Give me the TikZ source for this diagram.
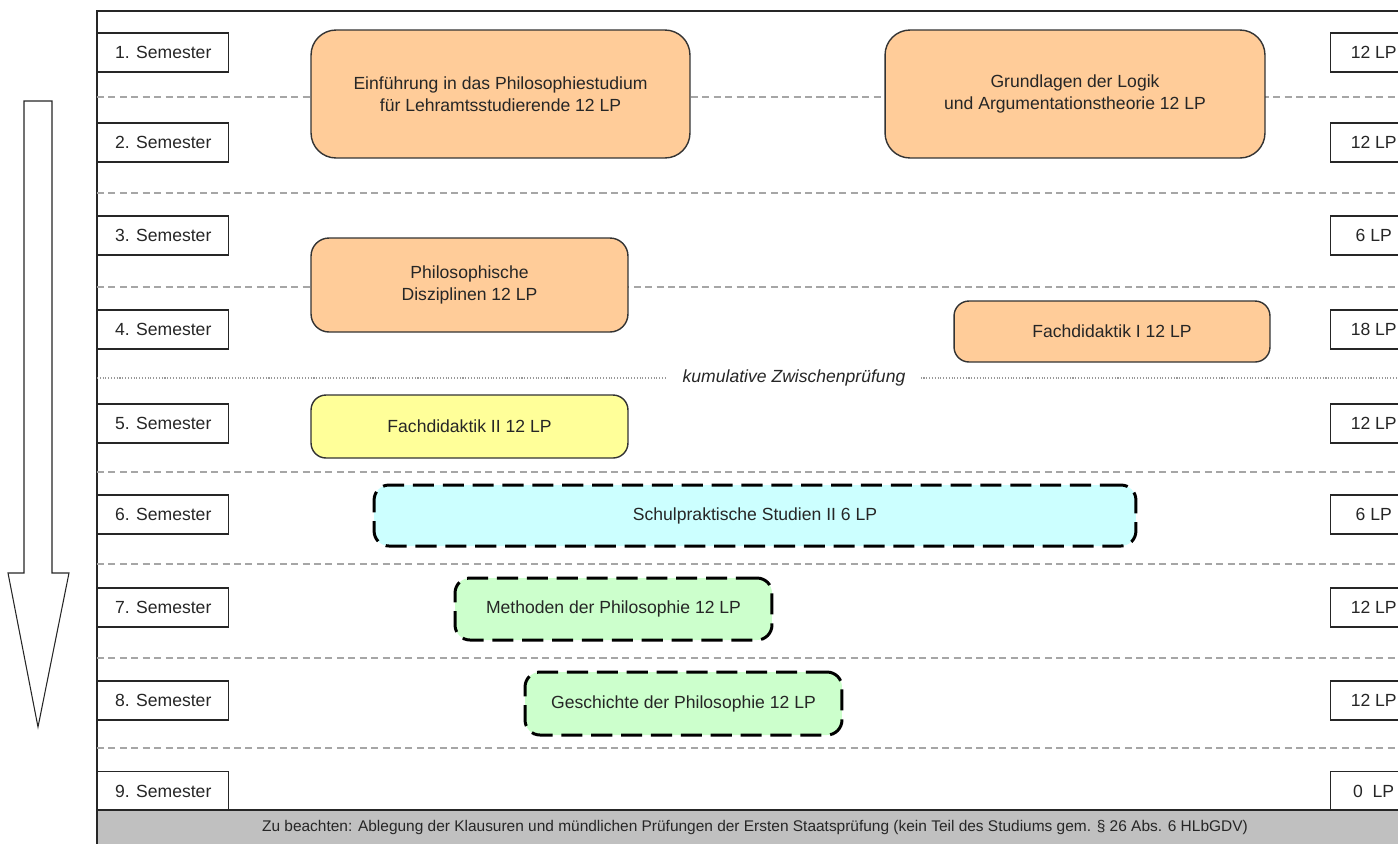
\documentclass[tikz,border=0pt]{standalone}
\usepackage{fontspec}
\setmainfont{Liberation Sans}
\usepackage{tikz}
\usetikzlibrary{positioning}
\usepackage{xcolor}

\definecolor{modorange}{HTML}{FFCC99}
\definecolor{modyellow}{HTML}{FFFF99}
\definecolor{modcyan}{HTML}{CCFFFF}
\definecolor{modgreen}{HTML}{CCFFCC}
\definecolor{footgray}{HTML}{C0C0C0}
\definecolor{sepgray}{HTML}{A6A6A6}

\tikzset{
  sembox/.style={draw=black!85, line width=0.8pt, fill=white, text=black!85,
    minimum width=2.62cm, minimum height=0.78cm, inner sep=0pt},
  lpbox/.style={sembox, minimum width=1.72cm},
  sepline/.style={draw=sepgray, line width=0.6pt, dash pattern=on 4pt off 2.5pt},
  modbox/.style={draw=black!80, line width=0.8pt, align=center, text=black!85},
  dashbox/.style={draw=black, line width=1.7pt, dash pattern=on 12pt off 5pt,
    rounded corners=0.3cm, align=center, text=black!85}
}

\begin{document}
\begin{tikzpicture}[x=0.02cm, y=-0.02cm, font=\fontsize{10}{12.5}\selectfont]
  \useasboundingbox (0,0) rectangle (1398,843);
  \clip (0,0) rectangle (1398,843);

  % Frame
  \draw[line width=0.8pt, draw=black!85] (97,11) rectangle (1460,870);

  % Semester separators
  \foreach \y in {97,193,287,472,564,658,748}{
    \draw[sepline] (97,\y) -- (1460,\y);
  }
  \draw[draw=gray!80, line width=0.6pt, densely dotted] (97,378) -- (1460,378);
  \node[fill=white, inner xsep=9pt, inner ysep=1pt, font=\itshape, text=black!85] (zwp) at (794,378) {kumulative Zwischenprüfung};

  % Semester and LP boxes
  \foreach \i/\y/\lp in {
    1/52.5/12, 2/142.5/12, 3/235.5/6, 4/329.5/18, 5/423.5/12,
    6/514.5/6, 7/607.5/12, 8/700.5/12, 9/791/0
  }{
    \node[sembox, anchor=west] (sem\i) at (97,\y) {\i. Semester};
    \node[lpbox, anchor=west] (lp\i) at (1330,\y) {\lp{} LP};
  }

  % Footer
  \draw[fill=footgray, line width=0.8pt, draw=black!85] (97,810) rectangle (1460,870);
  \node[font=\fontsize{8.8}{10}\selectfont, text=black!85] (note) at (755,827)
    {Zu beachten: Ablegung der Klausuren und mündlichen Prüfungen der Ersten Staatsprüfung (kein Teil des Studiums gem. § 26 Abs. 6 HLbGDV)};

  % Time arrow
  \draw[fill=white, line width=0.6pt, draw=black!85]
    (24,101) -- (52,101) -- (52,573) -- (69,573) -- (38,727) -- (8,573) -- (24,573) -- cycle;

  % Modules
  \node[modbox, fill=modorange, rounded corners=0.5cm, minimum width=7.58cm, minimum height=2.56cm]
    (einf) at (500.5,94) {Einführung in das Philosophiestudium\\für Lehramtsstudierende 12 LP};
  \node[modbox, fill=modorange, rounded corners=0.5cm, minimum width=7.6cm, minimum height=2.56cm]
    (logik) at (1075,94) {Grundlagen der Logik\\und Argumentationstheorie 12 LP};
  \node[modbox, fill=modorange, rounded corners=0.36cm, minimum width=6.34cm, minimum height=1.88cm]
    (diszi) at (469.5,285) {Philosophische\\Disziplinen 12 LP};
  \node[modbox, fill=modorange, rounded corners=0.3cm, minimum width=6.32cm, minimum height=1.22cm]
    (fd1) at (1112,331.5) {Fachdidaktik I 12 LP};
  \node[modbox, fill=modyellow, rounded corners=0.3cm, minimum width=6.34cm, minimum height=1.26cm]
    (fd2) at (469.5,426.5) {Fachdidaktik II 12 LP};
  \node[dashbox, fill=modcyan, minimum width=15.24cm, minimum height=1.22cm]
    (sps) at (755,515.5) {Schulpraktische Studien II 6 LP};
  \node[dashbox, fill=modgreen, minimum width=6.34cm, minimum height=1.24cm]
    (meth) at (613.5,609) {Methoden der Philosophie 12 LP};
  \node[dashbox, fill=modgreen, minimum width=6.34cm, minimum height=1.26cm]
    (gesch) at (683.5,703.5) {Geschichte der Philosophie 12 LP};

\end{tikzpicture}
\end{document}
